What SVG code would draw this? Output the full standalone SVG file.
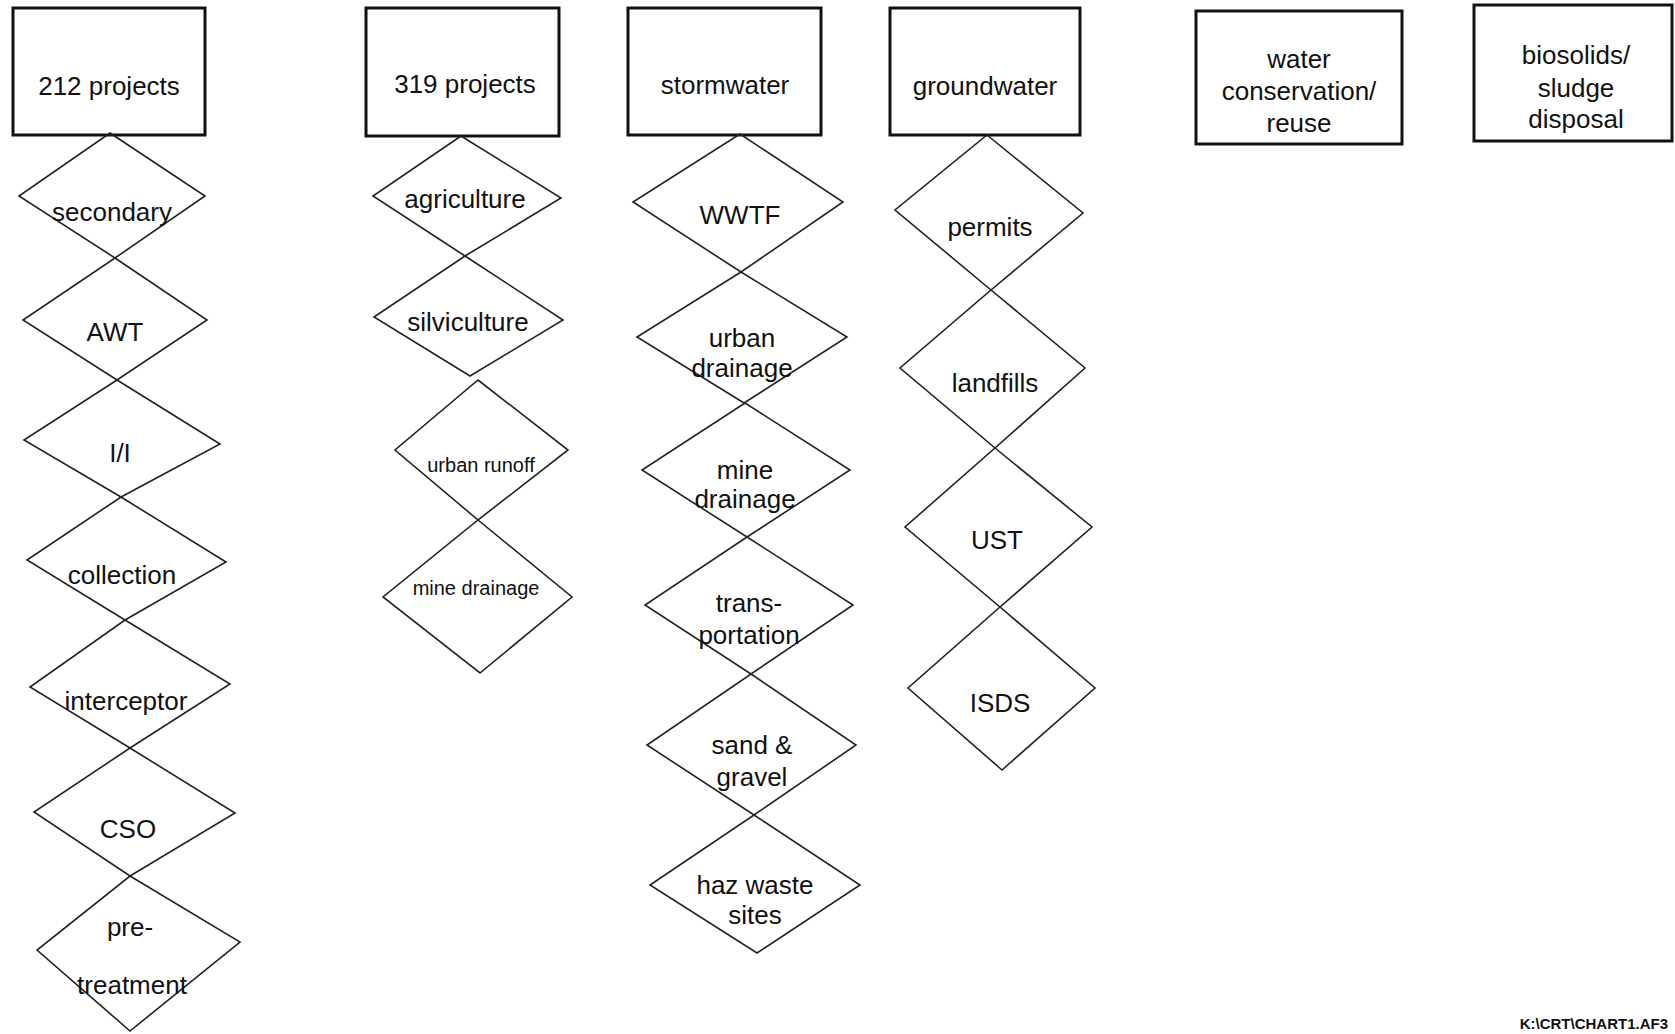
<svg xmlns="http://www.w3.org/2000/svg" width="1675" height="1034" viewBox="0 0 1675 1034">
<style>
.bg{fill:#ffffff}
.box{fill:none;stroke:#111;stroke-width:3}
.dia{fill:none;stroke:#222;stroke-width:1.6;stroke-linejoin:miter}
.t{font-family:"Liberation Sans",Arial,sans-serif;font-size:26px;fill:#111;text-anchor:middle;dominant-baseline:central}
.s{font-size:20px}
.foot{font-family:"Liberation Sans",Arial,sans-serif;font-size:15px;font-weight:bold;fill:#111;text-anchor:end}
</style>
<rect class="bg" x="0" y="0" width="1675" height="1034"/>
<g id="connectors"></g>

<!-- Column 1 -->
<g id="n212projects"><rect class="box" x="13" y="8" width="192" height="127"/><text class="t" x="109" y="86">212 projects</text></g>
<g id="secondary"><polygon class="dia" points="110,133 205,196 115,258 19,196"/><text class="t" x="112" y="212">secondary</text></g>
<g id="awt"><polygon class="dia" points="115,258 207,320 117,380 23,320"/><text class="t" x="115" y="332">AWT</text></g>
<g id="ii"><polygon class="dia" points="117,380 220,444 121,497 24,440"/><text class="t" x="120" y="453">I/I</text></g>
<g id="collection"><polygon class="dia" points="121,497 226,562 125,620 27,560"/><text class="t" x="122" y="575">collection</text></g>
<g id="interceptor"><polygon class="dia" points="125,620 230,684 130,748 30,687"/><text class="t" x="126" y="701">interceptor</text></g>
<g id="cso"><polygon class="dia" points="130,748 235,813 130,876 34,812"/><text class="t" x="128" y="829">CSO</text></g>
<g id="pretreatment"><polygon class="dia" points="130,876 240,942 130,1031 37,950"/><text class="t" x="130" y="927">pre-</text><text class="t" x="132" y="985">treatment</text></g>

<!-- Column 2 -->
<g id="n319projects"><rect class="box" x="366" y="8" width="193" height="128"/><text class="t" x="465" y="84">319 projects</text></g>
<g id="agriculture"><polygon class="dia" points="461,136 561,198 465,256 373,196"/><text class="t" x="465" y="199">agriculture</text></g>
<g id="silviculture"><polygon class="dia" points="465,256 563,320 470,376 374,317"/><text class="t" x="468" y="322">silviculture</text></g>
<g id="urbanrunoff"><polygon class="dia" points="478,380 568,450 478,520 395,450"/><text class="t s" x="481" y="465">urban runoff</text></g>
<g id="minedrainage2"><polygon class="dia" points="478,520 572,597 480,673 383,597"/><text class="t s" x="476" y="588">mine drainage</text></g>

<!-- Column 3 -->
<g id="stormwater"><rect class="box" x="628" y="8" width="193" height="127"/><text class="t" x="725" y="85">stormwater</text></g>
<g id="wwtf"><polygon class="dia" points="740,134 843,202 741,272 633,202"/><text class="t" x="740" y="215">WWTF</text></g>
<g id="urbandrainage"><polygon class="dia" points="741,272 847,337 744,403 637,337"/><text class="t" x="742" y="338">urban</text><text class="t" x="742" y="368">drainage</text></g>
<g id="minedrainage3"><polygon class="dia" points="745,403 850,470 747,537 642,470"/><text class="t" x="745" y="470">mine</text><text class="t" x="745" y="499">drainage</text></g>
<g id="transportation"><polygon class="dia" points="747,537 853,605 751,674 645,605"/><text class="t" x="749" y="603">trans-</text><text class="t" x="749" y="635">portation</text></g>
<g id="sandgravel"><polygon class="dia" points="751,674 856,745 754,815 647,745"/><text class="t" x="752" y="745">sand &amp;</text><text class="t" x="752" y="777">gravel</text></g>
<g id="hazwaste"><polygon class="dia" points="754,815 860,885 757,953 650,885"/><text class="t" x="755" y="885">haz waste</text><text class="t" x="755" y="915">sites</text></g>

<!-- Column 4 -->
<g id="groundwater"><rect class="box" x="890" y="8" width="190" height="127"/><text class="t" x="985" y="86">groundwater</text></g>
<g id="permits"><polygon class="dia" points="987,135 1083,213 991,290 895,210"/><text class="t" x="990" y="227">permits</text></g>
<g id="landfills"><polygon class="dia" points="991,290 1085,368 995,448 900,368"/><text class="t" x="995" y="383">landfills</text></g>
<g id="ust"><polygon class="dia" points="995,448 1092,527 1000,607 905,527"/><text class="t" x="997" y="540">UST</text></g>
<g id="isds"><polygon class="dia" points="1000,607 1095,688 1002,770 908,688"/><text class="t" x="1000" y="703">ISDS</text></g>

<!-- Column 5 -->
<g id="waterconservation"><rect class="box" x="1196" y="11" width="206" height="133"/><text class="t" x="1299" y="59">water</text><text class="t" x="1299" y="91">conservation/</text><text class="t" x="1299" y="123">reuse</text></g>

<!-- Column 6 -->
<g id="biosolids"><rect class="box" x="1474" y="5" width="198" height="136"/><text class="t" x="1576" y="55">biosolids/</text><text class="t" x="1576" y="88">sludge</text><text class="t" x="1576" y="119">disposal</text></g>

<text class="foot" x="1668" y="1029">K:\CRT\CHART1.AF3</text>
</svg>
